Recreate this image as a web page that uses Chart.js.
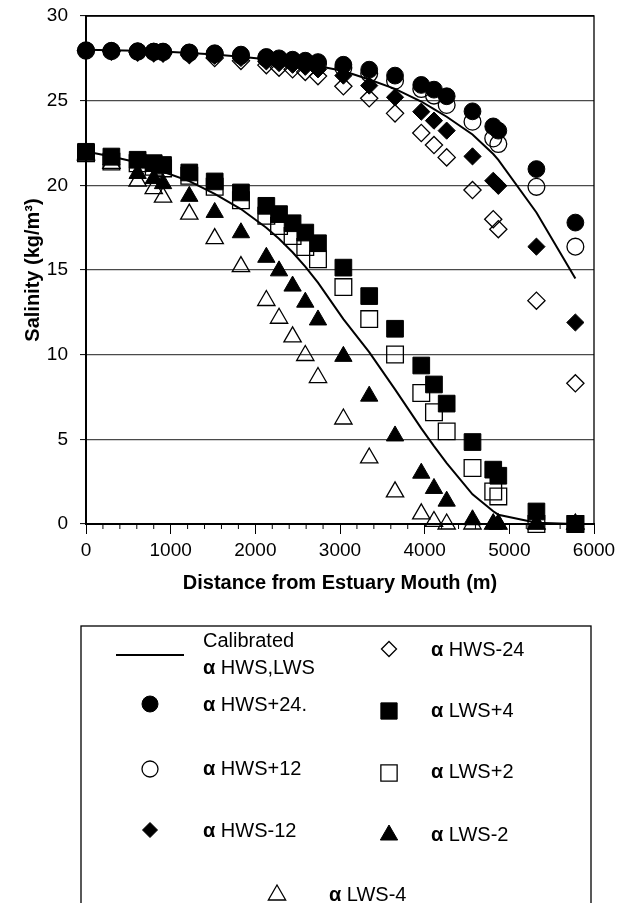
<!DOCTYPE html>
<html>
<head>
<meta charset="utf-8">
<script src="https://cdn.jsdelivr.net/npm/chart.js"></script>
<style> html, body { margin: 0; padding: 0; background: white; } canvas { display: block; } </style>
</head>
<body>
<canvas id="myChart" width="619" height="903"></canvas>
<script>
    // station distances (m) shared by all series
    const distance = [0, 300, 610, 800, 910, 1220, 1520, 1830, 2130, 2280, 2440, 2590, 2740, 3040, 3345, 3650, 3960, 4110, 4260, 4565, 4810, 4870, 5320, 5780];

    const calibHWS = [28.0, 27.98, 27.95, 27.92, 27.9, 27.82, 27.72, 27.6, 27.45, 27.35, 27.25, 27.15, 27.05, 26.75, 26.25, 25.7, 24.95, 24.5, 24.05, 23.0, 21.85, 21.5, 18.4, 14.5];
    const calibLWS = [22.0, 21.7, 21.35, 21.05, 20.8, 20.25, 19.5, 18.6, 17.5, 16.85, 16.05, 15.2, 14.25, 12.1, 10.15, 7.95, 5.65, 4.6, 3.6, 1.75, 0.75, 0.55, 0.08, 0];

    const hwsPlus24 = [27.98, 27.95, 27.92, 27.9, 27.9, 27.85, 27.8, 27.72, 27.58, 27.5, 27.42, 27.36, 27.28, 27.12, 26.83, 26.48, 25.93, 25.65, 25.26, 24.37, 23.48, 23.23, 20.96, 17.8];
    const hwsPlus12 = [27.95, 27.92, 27.9, 27.88, 27.87, 27.82, 27.75, 27.66, 27.5, 27.42, 27.35, 27.28, 27.18, 26.95, 26.6, 26.18, 25.69, 25.3, 24.75, 23.76, 22.77, 22.44, 19.91, 16.38];
    const hwsMinus12 = [27.98, 27.93, 27.88, 27.85, 27.84, 27.75, 27.65, 27.52, 27.32, 27.22, 27.12, 27.0, 26.85, 26.48, 25.89, 25.2, 24.35, 23.82, 23.23, 21.71, 20.27, 19.97, 16.38, 11.9];
    const hwsMinus24 = [27.95, 27.9, 27.85, 27.8, 27.78, 27.7, 27.52, 27.35, 27.1, 26.95, 26.85, 26.7, 26.45, 25.85, 25.14, 24.25, 23.09, 22.38, 21.65, 19.72, 18.0, 17.41, 13.19, 8.31];
    const lwsPlus4 = [21.98, 21.7, 21.51, 21.31, 21.2, 20.76, 20.23, 19.58, 18.79, 18.3, 17.76, 17.21, 16.58, 15.14, 13.46, 11.53, 9.36, 8.24, 7.11, 4.84, 3.21, 2.85, 0.74, 0];
    const lwsPlus2 = [21.9, 21.4, 21.3, 21.1, 21.0, 20.56, 19.91, 19.12, 18.2, 17.6, 17.01, 16.36, 15.63, 13.99, 12.1, 10.01, 7.74, 6.6, 5.47, 3.31, 1.92, 1.63, 0, 0];
    const lwsMinus2 = [21.9, 21.5, 20.7, 20.4, 20.1, 19.35, 18.4, 17.2, 15.75, 14.95, 14.05, 13.1, 12.05, 9.9, 7.55, 5.2, 3.0, 2.1, 1.35, 0.25, 0, 0, 0, 0];
    const lwsMinus4 = [21.8, 21.3, 20.25, 19.8, 19.3, 18.3, 16.85, 15.2, 13.2, 12.15, 11.05, 9.95, 8.65, 6.2, 3.9, 1.9, 0.6, 0.15, 0, 0, 0, 0, 0, 0];

    const xTicks = [0, 1000, 2000, 3000, 4000, 5000, 6000];
    const yTicks = [0, 5, 10, 15, 20, 25, 30];

    const FONT = '"Liberation Sans", Arial, sans-serif';

    function pts(ys) {
        return distance.map((d, i) => ({ x: d, y: ys[i] }));
    }

    function marker(label, ys, style, r, filled) {
        return {
            label: label,
            data: pts(ys),
            showLine: false,
            pointStyle: style,
            pointRadius: r,
            pointHoverRadius: r,
            pointBackgroundColor: filled ? '#000' : 'rgba(0,0,0,0)',
            pointBorderColor: '#000',
            pointBorderWidth: filled ? 1 : 1.3,
            clip: false
        };
    }

    function calibLine(label, ys) {
        return {
            label: label,
            data: pts(ys),
            showLine: true,
            borderColor: '#000',
            borderWidth: 2,
            pointRadius: 0,
            tension: 0,
            clip: false
        };
    }

    // index 0 is drawn on top
    const datasets = [
        marker('HWS+24.', hwsPlus24, 'circle', 8.4, true),
        marker('HWS+12', hwsPlus12, 'circle', 8.4, false),
        marker('HWS-12', hwsMinus12, 'rectRot', 8.6, true),
        marker('HWS-24', hwsMinus24, 'rectRot', 8.6, false),
        marker('LWS+4', lwsPlus4, 'rect', 11.8, true),
        marker('LWS+2', lwsPlus2, 'rect', 11.8, false),
        marker('LWS-2', lwsMinus2, 'triangle', 10, true),
        marker('LWS-4', lwsMinus4, 'triangle', 10, false),
        calibLine('Calibrated HWS', calibHWS),
        calibLine('Calibrated LWS', calibLWS)
    ];

    // legend entries: dataset index, symbol position, text position
    const legendItems = [
        { ds: 0, sx: 150, sy: 704, tx: 203, ty: 705, text: 'HWS+24.' },
        { ds: 1, sx: 150, sy: 769, tx: 203, ty: 769, text: 'HWS+12' },
        { ds: 2, sx: 150, sy: 830, tx: 203, ty: 831, text: 'HWS-12' },
        { ds: 3, sx: 389, sy: 649, tx: 431, ty: 650, text: 'HWS-24' },
        { ds: 4, sx: 389, sy: 711, tx: 431, ty: 711, text: 'LWS+4' },
        { ds: 5, sx: 389, sy: 773, tx: 431, ty: 772, text: 'LWS+2' },
        { ds: 6, sx: 389, sy: 835, tx: 431, ty: 835, text: 'LWS-2' },
        { ds: 7, sx: 277, sy: 895, tx: 329, ty: 895, text: 'LWS-4' }
    ];

    function alphaText(ctx, x, y, text) {
        ctx.font = 'bold 20px ' + FONT;
        ctx.fillText('\u03b1', x, y);
        const w = ctx.measureText('\u03b1').width;
        ctx.font = '20px ' + FONT;
        ctx.fillText(' ' + text, x + w, y);
    }

    const framePlugin = {
        id: 'frame',
        afterDraw(chart) {
            const { ctx, chartArea: a } = chart;
            const xs = chart.scales.x;
            ctx.save();
            ctx.strokeStyle = '#000';
            ctx.lineWidth = 1.3;
            ctx.beginPath();
            ctx.moveTo(a.left, a.top);
            ctx.lineTo(a.right, a.top);
            ctx.lineTo(a.right, a.bottom);
            ctx.stroke();
            // minor ticks every 200 m
            ctx.lineWidth = 1;
            for (let v = 200; v < 6000; v += 200) {
                if (v % 1000 === 0) continue;
                const px = xs.getPixelForValue(v);
                ctx.beginPath();
                ctx.moveTo(px, a.bottom);
                ctx.lineTo(px, a.bottom + 5);
                ctx.stroke();
            }
            ctx.restore();
        }
    };

    const legendPlugin = {
        id: 'boxLegend',
        afterDraw(chart) {
            const ctx = chart.ctx;
            ctx.save();
            ctx.strokeStyle = '#000';
            ctx.lineWidth = 1.3;
            ctx.strokeRect(81, 626, 510, 300);

            ctx.fillStyle = '#000';
            ctx.textBaseline = 'middle';
            ctx.textAlign = 'left';

            // calibrated line entry
            ctx.lineWidth = 2;
            ctx.beginPath();
            ctx.moveTo(116, 655);
            ctx.lineTo(184, 655);
            ctx.stroke();
            ctx.font = '20px ' + FONT;
            ctx.fillText('Calibrated', 203, 641);
            alphaText(ctx, 203, 668, 'HWS,LWS');

            legendItems.forEach(it => {
                const ds = chart.data.datasets[it.ds];
                const filled = ds.pointBackgroundColor === '#000';
                ctx.fillStyle = filled ? '#000' : 'rgba(0,0,0,0)';
                ctx.strokeStyle = '#000';
                ctx.lineWidth = ds.pointBorderWidth;
                let r = ds.pointRadius;
                if (ds.pointStyle === 'rectRot') r = 7.5;
                if (ds.pointStyle === 'rect') r = 11.5;
                if (ds.pointStyle === 'circle') r = 8;
                Chart.helpers.drawPoint(ctx, {
                    pointStyle: ds.pointStyle, radius: r, rotation: 0, borderWidth: ds.pointBorderWidth
                }, it.sx, it.sy);
                ctx.fillStyle = '#000';
                alphaText(ctx, it.tx, it.ty, it.text);
            });
            ctx.restore();
        }
    };

    const ctx = document.getElementById('myChart').getContext('2d');
    new Chart(ctx, {
        type: 'scatter',
        data: { datasets: datasets },
        options: {
            responsive: false,
            animation: false,
            events: [],
            layout: { padding: { left: 0, right: 25, top: 16, bottom: 299 } },
            plugins: {
                legend: { display: false },
                tooltip: { enabled: false }
            },
            scales: {
                x: {
                    type: 'linear',
                    min: 0, max: 6000,
                    afterFit: s => { s.height = 80; s.paddingLeft = 0; s.paddingRight = 0; },
                    afterBuildTicks: s => { s.ticks = xTicks.map(v => ({ value: v })); },
                    ticks: { color: '#000', padding: 5, font: { family: FONT, size: 19 }, callback: v => String(v) },
                    grid: { drawOnChartArea: false, drawTicks: true, tickLength: 10, tickColor: '#000', tickWidth: 1 },
                    border: { display: true, color: '#000', width: 2 },
                    title: {
                        display: true, text: 'Distance from Estuary Mouth (m)', color: '#000',
                        font: { family: FONT, size: 20, weight: 'bold' }, padding: { top: 0, bottom: 9 }
                    }
                },
                y: {
                    type: 'linear',
                    min: 0, max: 30,
                    afterFit: s => { s.width = 86; s.paddingTop = 0; s.paddingBottom = 0; },
                    afterBuildTicks: s => { s.ticks = yTicks.map(v => ({ value: v })); },
                    ticks: { color: '#000', padding: 12, font: { family: FONT, size: 19 }, callback: v => String(v) },
                    grid: {
                        drawTicks: true, tickLength: 6, tickColor: '#000', tickWidth: 1,
                        color: c => (c.tick && (c.tick.value === 30 || c.tick.value === 0)) ? '#000' : '#4a4a4a',
                        lineWidth: 1.2
                    },
                    border: { display: true, color: '#000', width: 2 },
                    title: {
                        display: true, text: 'Salinity (kg/m\u00b3)', color: '#000',
                        font: { family: FONT, size: 20, weight: 'bold' }, padding: { top: 21, bottom: 0 }
                    }
                }
            }
        },
        plugins: [framePlugin, legendPlugin]
    });
</script>
</body>
</html>
